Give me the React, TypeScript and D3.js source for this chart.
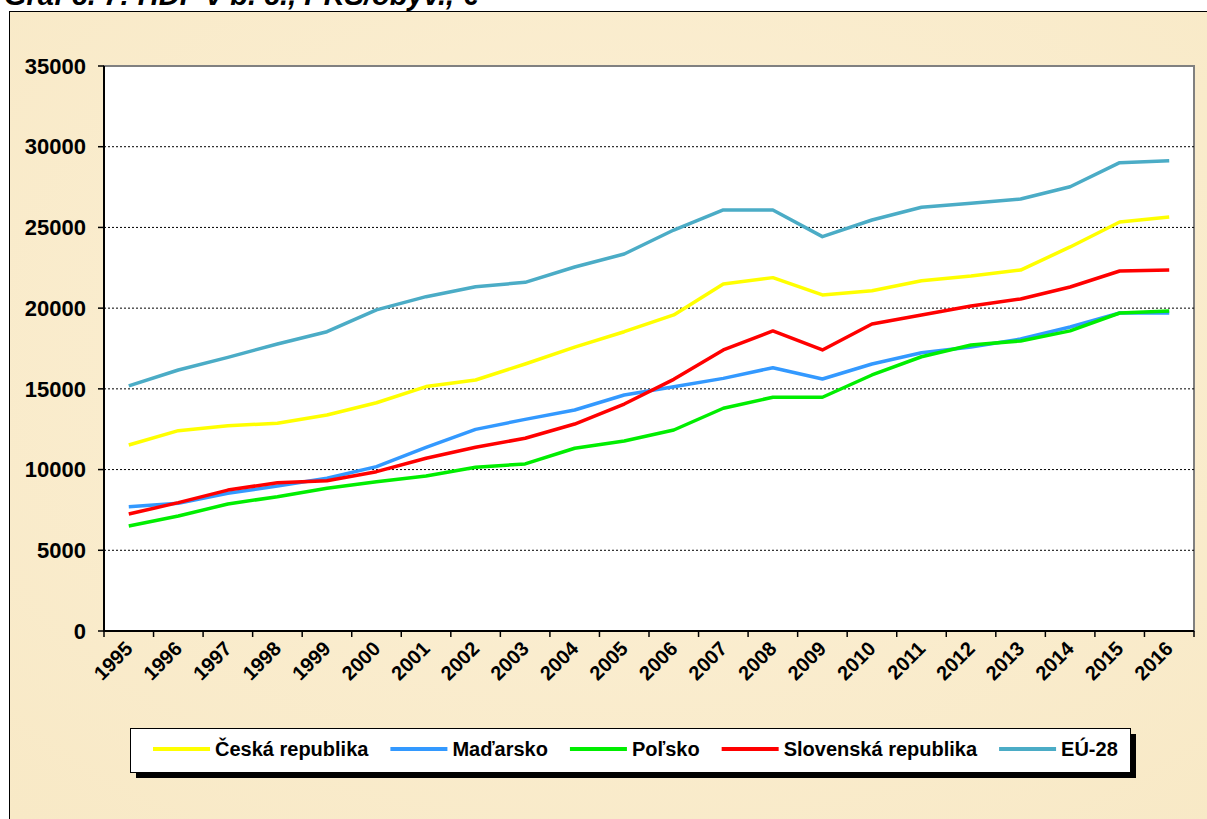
import React from "react";
import * as d3 from "d3";

const years = ["1995","1996","1997","1998","1999","2000","2001","2002","2003","2004","2005","2006","2007","2008","2009","2010","2011","2012","2013","2014","2015","2016"];

const czech = [11520,12410,12720,12870,13380,14140,15140,15550,16540,17590,18540,19580,21500,21890,20820,21080,21700,21990,22360,23790,25340,25650];
const hungary = [7700,7910,8530,8980,9460,10180,11380,12490,13110,13690,14620,15130,15650,16310,15610,16540,17240,17590,18090,18830,19700,19700];
const poland = [6500,7120,7870,8320,8840,9250,9600,10140,10350,11320,11770,12450,13800,14480,14480,15860,16990,17720,17970,18590,19700,19820];
const slovakia = [7250,7950,8730,9190,9310,9870,10700,11380,11940,12820,14060,15590,17410,18590,17410,19020,19580,20130,20570,21310,22300,22360];
const eu28 = [15180,16170,16950,17780,18540,19890,20710,21330,21600,22550,23355,24840,26080,26080,24430,25460,26250,26500,26760,27520,29010,29130];

const seriesNames = ["Česká republika","Maďarsko","Poľsko","Slovenská republika","EÚ-28"];
const seriesValues = [czech, hungary, poland, slovakia, eu28];
const seriesColors = ["#ffff00","#3399ff","#00ee00","#ff0000","#4bacc6"];

const yTicks = [0,5000,10000,15000,20000,25000,30000,35000];

const title = "Graf č. 7: HDP v b. c., PKS/obyv., €";

const FONT = "'Liberation Sans', Arial, Helvetica, sans-serif";

function measure(text: string, font: string): number {
  if (typeof document === "undefined") return text.length * 10;
  const c = document.createElement("canvas");
  const ctx = c.getContext("2d");
  if (!ctx) return text.length * 10;
  ctx.font = font;
  return ctx.measureText(text).width;
}

export default function App() {
  const W = 1207, H = 819;
  const left = 104, right = 1194, top = 66, bottom = 631;

  const x = d3.scaleBand<string>().domain(years).range([left, right]).padding(0);
  const y = d3.scaleLinear().domain([0, 35000]).range([bottom, top]);
  const cx = (yr: string) => (x(yr) as number) + x.bandwidth() / 2;

  const line = d3.line<number>()
    .x((_, i) => cx(years[i]))
    .y((v) => y(v));

  const legendFont = `bold 20px ${FONT}`;
  const legendStart = 153;
  const sampleW = 57;
  let acc = legendStart;
  const legendItems = seriesNames.map((name, i) => {
    const item = { name, color: seriesColors[i], x: acc };
    acc += sampleW + 5 + measure(name, legendFont) + 22;
    return item;
  });

  const boundaries = [...years.map((yr) => x(yr) as number), right];

  return (
    <div style={{ position: "absolute", left: 0, top: 0, width: W, height: H, overflow: "hidden", background: "#fff" }}>
      <svg width={W} height={H} style={{ display: "block" }}>
        <defs>
          <radialGradient id="parch" cx="50%" cy="40%" r="75%">
            <stop offset="0%" stopColor="#fcf0d6" />
            <stop offset="100%" stopColor="#f8e9c6" />
          </radialGradient>
        </defs>
        <rect x={0} y={0} width={W} height={H} fill="#ffffff" />
        <text x={4} y={5} fontFamily={FONT} fontWeight="bold" fontStyle="italic" fontSize={29} fill="#000">{title}</text>
        <rect x={9.5} y={11.5} width={W + 20} height={H + 20} fill="url(#parch)" stroke="#000" strokeWidth={1} />

        {/* plot area */}
        <rect x={left} y={top} width={right - left} height={bottom - top} fill="#ffffff" stroke="#808080" strokeWidth={2} />

        {/* gridlines */}
        {yTicks.filter((t) => t > 0 && t < 35000).map((t) => (
          <line key={t} x1={left} x2={right} y1={y(t)} y2={y(t)} stroke="#000" strokeWidth={1} strokeDasharray="2,2" />
        ))}

        {/* axes */}
        <line x1={left} x2={left} y1={top} y2={bottom} stroke="#000" strokeWidth={2} />
        <line x1={left - 1} x2={right} y1={bottom} y2={bottom} stroke="#000" strokeWidth={2} />
        {yTicks.map((t) => (
          <g key={t}>
            <line x1={left - 6} x2={left} y1={y(t)} y2={y(t)} stroke="#000" strokeWidth={1.5} />
            <text x={86} y={y(t)} dy="0.35em" textAnchor="end" fontFamily={FONT} fontWeight="bold" fontSize={22} fill="#000">{t}</text>
          </g>
        ))}
        {boundaries.map((b, i) => (
          <line key={i} x1={b} x2={b} y1={bottom} y2={bottom + 6} stroke="#000" strokeWidth={1.5} />
        ))}
        {years.map((yr) => (
          <text key={yr} transform={`translate(${cx(yr) + 5},${bottom + 19}) rotate(-45)`} textAnchor="end" fontFamily={FONT} fontWeight="bold" fontSize={20} fill="#000">{yr}</text>
        ))}

        {/* series */}
        {seriesValues.map((vals, i) => (
          <path key={i} d={line(vals) || ""} fill="none" stroke={seriesColors[i]} strokeWidth={3.5} strokeLinejoin="round" strokeLinecap="butt" />
        ))}

        {/* legend */}
        <rect x={136} y={734} width={1000} height={44} fill="#000" />
        <rect x={130.5} y={728.5} width={1000} height={44} fill="#fff" stroke="#000" strokeWidth={1} />
        {legendItems.map((it) => (
          <g key={it.name}>
            <line x1={it.x} x2={it.x + sampleW} y1={749} y2={749} stroke={it.color} strokeWidth={4} />
            <text x={it.x + sampleW + 5} y={749} dy="0.35em" fontFamily={FONT} fontWeight="bold" fontSize={20} fill="#000">{it.name}</text>
          </g>
        ))}
      </svg>
    </div>
  );
}
